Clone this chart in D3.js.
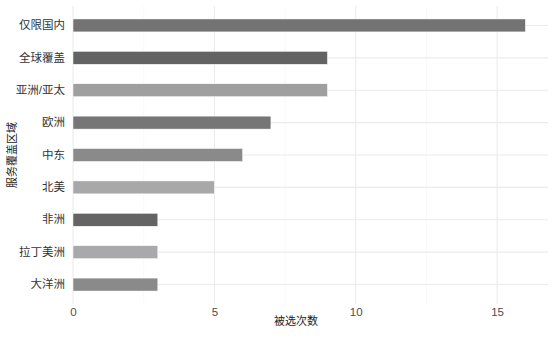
<!DOCTYPE html>
<html>
<head>
<meta charset="utf-8">
<script src="https://cdn.jsdelivr.net/npm/d3@7"></script>
<style>
  body { margin: 0; background: #fff; }
  text { font-family: "Liberation Sans", "Noto Sans CJK SC", sans-serif; }
</style>
</head>
<body>
<div id="chart"></div>
<script>
// data
const regions = ["仅限国内", "全球覆盖", "亚洲/亚太", "欧洲", "中东", "北美", "非洲", "拉丁美洲", "大洋洲"];
const counts = [16, 9, 9, 7, 6, 5, 3, 3, 3];
const barColors = ["#737373", "#636363", "#9f9f9f", "#767676", "#8a8a8a", "#a8a8a8", "#646464", "#a9a9ab", "#8a8a8a"];
const xTicks = [0, 5, 10, 15];
const xMinor = [2.5, 7.5, 12.5];

const width = 560;
const height = 338;
const margin = { top: 6, right: 12, bottom: 34, left: 73 };

const data = regions.map((r, i) => ({ region: r, count: counts[i], color: barColors[i] }));

const svg = d3.select("#chart")
  .append("svg")
  .attr("width", width)
  .attr("height", height);

const x = d3.scaleLinear()
  .domain([0, d3.max(counts) * 1.05])
  .range([margin.left, width - margin.right]);

const y = d3.scaleBand()
  .domain(regions)
  .range([margin.top, height - margin.bottom])
  .paddingInner(0.6)
  .paddingOuter(0.4);

const panelTop = margin.top;
const panelBottom = height - margin.bottom;

// grid
svg.append("g")
  .selectAll("line")
  .data(xMinor)
  .enter()
  .append("line")
  .attr("x1", (d) => x(d)).attr("x2", (d) => x(d))
  .attr("y1", panelTop).attr("y2", panelBottom)
  .attr("stroke", "#f4f4f4")
  .attr("stroke-width", 0.6);

svg.append("g")
  .selectAll("line")
  .data(xTicks)
  .enter()
  .append("line")
  .attr("x1", (d) => x(d)).attr("x2", (d) => x(d))
  .attr("y1", panelTop).attr("y2", panelBottom)
  .attr("stroke", "#ebebeb")
  .attr("stroke-width", 1.1);

svg.append("g")
  .selectAll("line")
  .data(regions)
  .enter()
  .append("line")
  .attr("x1", x.range()[0]).attr("x2", x.range()[1])
  .attr("y1", (d) => y(d) + y.bandwidth() / 2)
  .attr("y2", (d) => y(d) + y.bandwidth() / 2)
  .attr("stroke", "#ebebeb")
  .attr("stroke-width", 1.1);

// bars
svg.append("g")
  .selectAll("rect")
  .data(data)
  .enter()
  .append("rect")
  .attr("x", x(0))
  .attr("y", (d) => y(d.region))
  .attr("width", (d) => x(d.count) - x(0))
  .attr("height", y.bandwidth())
  .attr("fill", (d) => d.color)
  .attr("stroke", "#fff")
  .attr("stroke-width", 0.5);

// axes (no lines, just labels)
const xAxis = svg.append("g")
  .attr("transform", `translate(0,${panelBottom})`)
  .call(d3.axisBottom(x).tickValues(xTicks).tickSize(0).tickPadding(4));
xAxis.select(".domain").remove();
xAxis.selectAll("text")
  .style("font-size", "11.5px")
  .style("fill", "#4d4d4d");

const yAxis = svg.append("g")
  .attr("transform", `translate(${margin.left},0)`)
  .call(d3.axisLeft(y).tickSize(0).tickPadding(8));
yAxis.select(".domain").remove();
yAxis.selectAll("text")
  .style("font-size", "11.5px")
  .style("fill", "#333");

// axis titles
svg.append("text")
  .attr("x", 296)
  .attr("y", 325)
  .attr("text-anchor", "middle")
  .style("font-size", "11px")
  .style("fill", "#222")
  .text("被选次数");

svg.append("text")
  .attr("transform", `translate(16,${(panelTop + panelBottom) / 2}) rotate(-90)`)
  .attr("text-anchor", "middle")
  .style("font-size", "11px")
  .style("fill", "#222")
  .text("服务覆盖区域");
</script>
</body>
</html>
